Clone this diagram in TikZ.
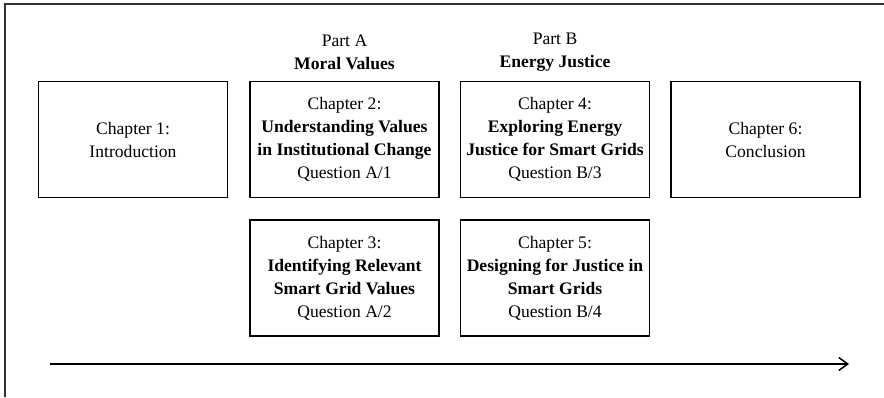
\documentclass[tikz,border=0pt]{standalone}
\usepackage{fontspec}
\setmainfont{Liberation Serif}
\usetikzlibrary{arrows.meta}
\begin{document}
\begin{tikzpicture}[x=1pt,y=-1pt,
  chap/.style={draw=black,line width=1.5pt,minimum width=189pt,minimum height=116pt,align=center,inner sep=0pt,font=\fontsize{17.6}{23}\selectfont},
  lbl/.style={align=center,font=\fontsize{17.6}{23}\selectfont,inner sep=0pt}]
\useasboundingbox (0,0) rectangle (884,397);
\draw[line width=1.6pt,draw=black!80] (5,397) -- (5,4) -- (884,4);
\node[chap] (c1) at (133,139.5) {Chapter 1:\\Introduction};
\node[chap] (c2) at (344.5,139.5) {Chapter 2:\\\textbf{Understanding Values}\\\textbf{in Institutional Change}\\Question A/1};
\node[chap] (c4) at (555,139.5) {Chapter 4:\\\textbf{Exploring Energy}\\\textbf{Justice for Smart Grids}\\Question B/3};
\node[chap] (c6) at (765.5,139.5) {Chapter 6:\\Conclusion};
\node[chap] (c3) at (344.5,278) {Chapter 3:\\\textbf{Identifying Relevant}\\\textbf{Smart Grid Values}\\Question A/2};
\node[chap] (c5) at (555,278) {Chapter 5:\\\textbf{Designing for Justice in}\\\textbf{Smart Grids}\\Question B/4};
\node[lbl] (pa) at (344.5,52) {Part A\\\textbf{Moral Values}};
\node[lbl] (pb) at (555,52) {Part B\\\textbf{Energy Justice}};
\coordinate (s) at (50,364);
\coordinate (e) at (849,364);
\draw[line width=1.5pt,-{Straight Barb[length=9pt,width=13pt,line width=1.5pt]}] (s) -- (e);
\end{tikzpicture}
\end{document}
